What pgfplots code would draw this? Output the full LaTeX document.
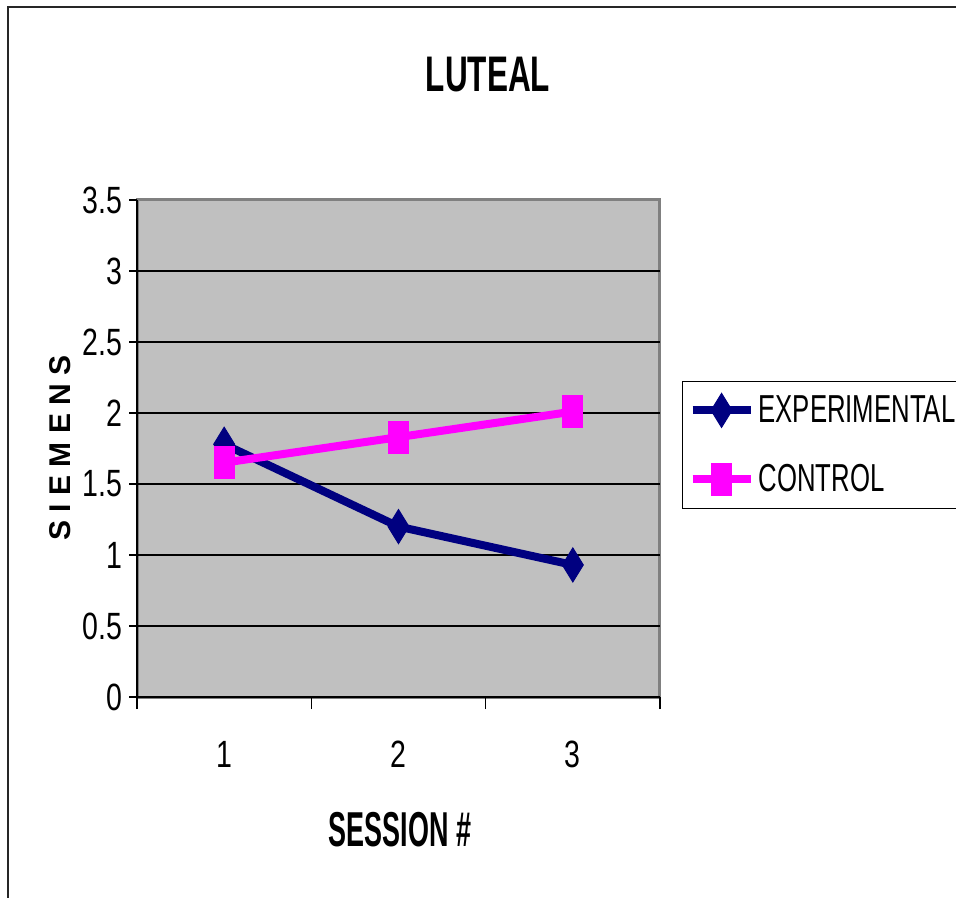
\documentclass[border=0pt]{standalone}
\usepackage{fontspec}
\usepackage{pgfplots}
\pgfplotsset{compat=1.18}
\setmainfont{Liberation Sans}
\newfontfamily\tickfont{Liberation Sans}[FakeStretch=0.75]
\newfontfamily\legfont{Liberation Sans}[FakeStretch=0.66]
\newfontfamily\titlefont{Liberation Sans}[FakeStretch=0.63]
\newfontfamily\xlabfont{Liberation Sans}[FakeStretch=0.55]

\definecolor{expblue}{RGB}{0,0,128}
\definecolor{ctrlpink}{RGB}{255,0,255}
\definecolor{plotbg}{RGB}{192,192,192}
\definecolor{framegray}{RGB}{128,128,128}

\begin{document}
\begin{tikzpicture}
\useasboundingbox (-68.5bp,-100.5bp) rectangle (409.5bp,348.5bp);
% outer chart border (left and top edges)
\draw[line width=1bp, black!85] (-64.5bp,-100.5bp) -- (-64.5bp,345bp) -- (409.5bp,345bp);

\begin{axis}[
  at={(0,0)}, anchor=south west,
  scale only axis,
  width=261.5bp, height=248.5bp,
  xmin=0, xmax=3, ymin=0, ymax=3.5,
  axis background/.style={fill=plotbg, draw=framegray, line width=1.5bp},
  axis x line*=bottom, axis y line*=left,
  axis line style={black, line width=0.7bp},
  tick align=outside,
  xtick={0.5,1.5,2.5}, xticklabels={1,2,3},
  major x tick style={draw=none},
  minor xtick={0,1,2,3},
  minor tick length=6bp,
  minor x tick style={black, line width=0.6bp},
  ytick={0,0.5,...,3.5},
  major tick length=4bp,
  major y tick style={black, line width=0.6bp},
  extra y ticks={0.5,1,1.5,2,2.5,3},
  extra y tick labels={},
  extra y tick style={grid=major, major tick length=0pt,
    grid style={black, line width=0.6bp}},
  /pgf/number format/assume math mode=true,
  tick label style={font=\tickfont\fontsize{19bp}{22bp}\selectfont},
  xticklabel style={yshift=-14.5bp},
  legend style={
    at={(1.042,0.636)}, anchor=north west,
    draw=black, line width=0.6bp, fill=white,
    font=\legfont\fontsize{19.5bp}{22bp}\selectfont,
    inner xsep=3bp, inner ysep=5bp,
    row sep=15.5bp,
  },
  legend cell align=left,
  legend image code/.code={
    \draw[mark repeat=2,mark phase=2] plot coordinates {(0bp,0bp) (14.5bp,0bp) (29bp,0bp)};
  },
  clip=false,
]
\addplot[expblue, line width=4bp, mark=diamond*,
  mark size=8.5bp, mark options={xscale=0.82, line width=0.5bp, fill=expblue}]
  coordinates {(0.5,1.78) (1.5,1.20) (2.5,0.93)};
\addlegendentry{EXPERIMENTAL\hspace*{12bp}}
\addplot[ctrlpink, line width=4bp, mark=square*,
  mark size=8bp, mark options={xscale=0.62, line width=0.5bp, fill=ctrlpink}]
  coordinates {(0.5,1.65) (1.5,1.83) (2.5,2.01)};
\addlegendentry{CONTROL}
\end{axis}

% title and axis titles
\node[font=\titlefont\bfseries\fontsize{25bp}{28bp}\selectfont] at (175.5bp,311bp) {LUTEAL};
\node[font=\xlabfont\bfseries\fontsize{24.5bp}{28bp}\selectfont] at (131.5bp,-66.5bp) {SESSION \#};
\node[font=\bfseries\fontsize{15bp}{18bp}\selectfont, rotate=90] at (-38.5bp,124.5bp) {S I E M E N S};
\end{tikzpicture}
\end{document}
